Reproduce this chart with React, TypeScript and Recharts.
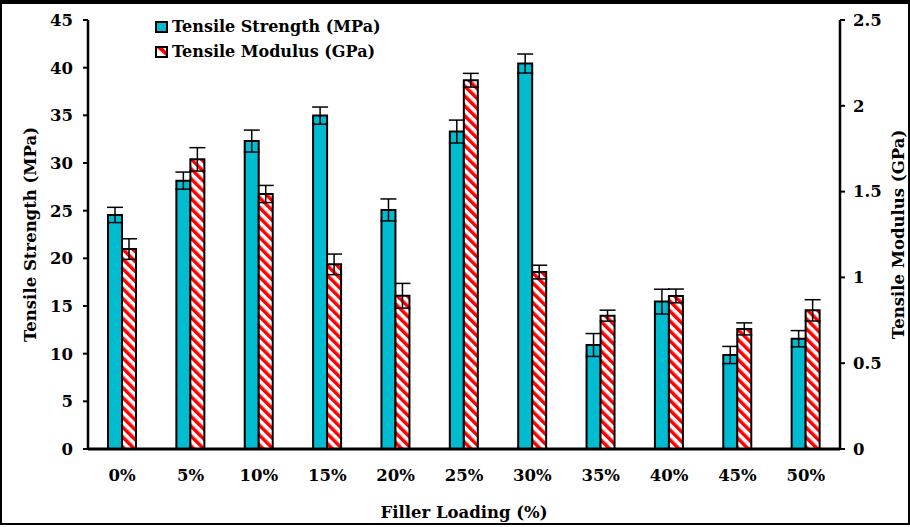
import React from 'react';
import { BarChart, Bar, XAxis, YAxis, ErrorBar, Legend } from 'recharts';

const categories = ['0%', '5%', '10%', '15%', '20%', '25%', '30%', '35%', '40%', '45%', '50%'];
const strength = [24.55, 28.15, 32.3, 34.97, 25.08, 33.3, 40.43, 10.91, 15.46, 9.86, 11.57];
const strengthErr = [0.8, 0.9, 1.15, 0.9, 1.15, 1.2, 1.0, 1.2, 1.3, 0.9, 0.85];
const modulus = [1.165, 1.688, 1.486, 1.076, 0.893, 2.149, 1.031, 0.777, 0.892, 0.7, 0.808];
const modulusErr = [0.06, 0.068, 0.05, 0.06, 0.072, 0.04, 0.04, 0.032, 0.04, 0.035, 0.062];
const leftTicks = [0, 5, 10, 15, 20, 25, 30, 35, 40, 45];
const rightTicks = [0, 0.5, 1, 1.5, 2, 2.5];

const data = categories.map((c, i) => ({
  cat: c,
  ts: strength[i],
  tsErr: strengthErr[i],
  tm: modulus[i],
  tmErr: modulusErr[i],
}));

const FONT = '"DejaVu Serif", serif';
const TEAL = '#00BCD0';

const LegendContent = () => (
  <div style={{ fontFamily: FONT, fontWeight: 'bold', fontSize: 16, color: '#000', lineHeight: '25px', whiteSpace: 'nowrap', width: 280 }}>
    <div style={{ display: 'flex', alignItems: 'center' }}>
      <svg width={14} height={12} style={{ marginRight: 3 }}>
        <rect x={1} y={1} width={11} height={10} fill={TEAL} stroke="#000" strokeWidth={2} />
      </svg>
      <span>Tensile Strength (MPa)</span>
    </div>
    <div style={{ display: 'flex', alignItems: 'center' }}>
      <svg width={14} height={12} style={{ marginRight: 3 }}>
        <rect x={1} y={1} width={11} height={10} fill="#fff" stroke="#000" strokeWidth={2} />
        <polygon points="2,2 8,2 11,5 11,10" fill="#ff0000" />
      </svg>
      <span>Tensile Modulus (GPa)</span>
    </div>
  </div>
);

export default function App() {
  const tickStyle = { fontFamily: FONT, fontWeight: 'bold', fontSize: 16.5, fill: '#000' };
  const titleStyle = { fontFamily: FONT, fontWeight: 'bold', fontSize: 16.5, fill: '#000' };
  return (
    <div style={{ position: 'absolute', left: 0, top: 0, width: 910, height: 527, background: '#fff' }}>
      <svg width={0} height={0} style={{ position: 'absolute' }}>
        <defs>
          <pattern id="redHatch" patternUnits="userSpaceOnUse" width={7} height={7} patternTransform="rotate(-45)">
            <rect x={0} y={0} width={7} height={7} fill="#fff" />
            <rect x={0} y={0} width={3.5} height={7} fill="#ff0000" />
          </pattern>
        </defs>
      </svg>
      <BarChart
        width={910}
        height={527}
        data={data}
        margin={{ top: 20, right: 0, bottom: 38, left: 0 }}
        barGap={0}
        barSize={14}
      >
        <XAxis
          dataKey="cat"
          tickLine={false}
          axisLine={{ stroke: '#000', strokeWidth: 3 }}
          tick={tickStyle}
          tickMargin={14}
          height={40}
          interval={0}
          label={{ value: 'Filler Loading (%)', position: 'insideBottom', offset: -29, style: titleStyle }}
        />
        <YAxis
          yAxisId="left"
          domain={[0, 45]}
          ticks={leftTicks}
          interval={0}
          width={88}
          tick={tickStyle}
          tickSize={5}
          tickLine={{ stroke: '#000', strokeWidth: 2 }}
          axisLine={{ stroke: '#000', strokeWidth: 2.5 }}
          tickMargin={10}
          label={{ value: 'Tensile Strength (MPa)', angle: -90, position: 'insideLeft', offset: 30, style: { ...titleStyle, textAnchor: 'middle' } }}
        />
        <YAxis
          yAxisId="right"
          orientation="right"
          domain={[0, 2.5]}
          ticks={rightTicks}
          interval={0}
          width={70}
          tick={tickStyle}
          tickSize={5}
          tickLine={{ stroke: '#000', strokeWidth: 2 }}
          axisLine={{ stroke: '#000', strokeWidth: 2.5 }}
          tickMargin={8}
          label={{ value: 'Tensile Modulus (GPa)', angle: -90, position: 'insideRight', offset: 12, style: { ...titleStyle, textAnchor: 'middle' } }}
        />
        <Legend
          verticalAlign="top"
          align="left"
          layout="horizontal"
          content={<LegendContent />}
          wrapperStyle={{ top: 14, left: 155, width: 0, height: 0, overflow: 'visible' }}
        />
        <Bar yAxisId="left" dataKey="ts" fill={TEAL} stroke="#000" strokeWidth={2} isAnimationActive={false}>
          <ErrorBar dataKey="tsErr" width={8} stroke="#000" strokeWidth={1.5} />
        </Bar>
        <Bar yAxisId="right" dataKey="tm" fill="url(#redHatch)" stroke="#000" strokeWidth={2} isAnimationActive={false}>
          <ErrorBar dataKey="tmErr" width={8} stroke="#000" strokeWidth={1.5} />
        </Bar>
      </BarChart>
      <div
        style={{
          position: 'absolute',
          left: 0,
          top: 0,
          width: 910,
          height: 525,
          boxSizing: 'border-box',
          borderTop: '4px solid #000',
          borderLeft: '2px solid #000',
          borderRight: '2px solid #000',
          borderBottom: '2px solid #000',
          pointerEvents: 'none',
        }}
      />
    </div>
  );
}
